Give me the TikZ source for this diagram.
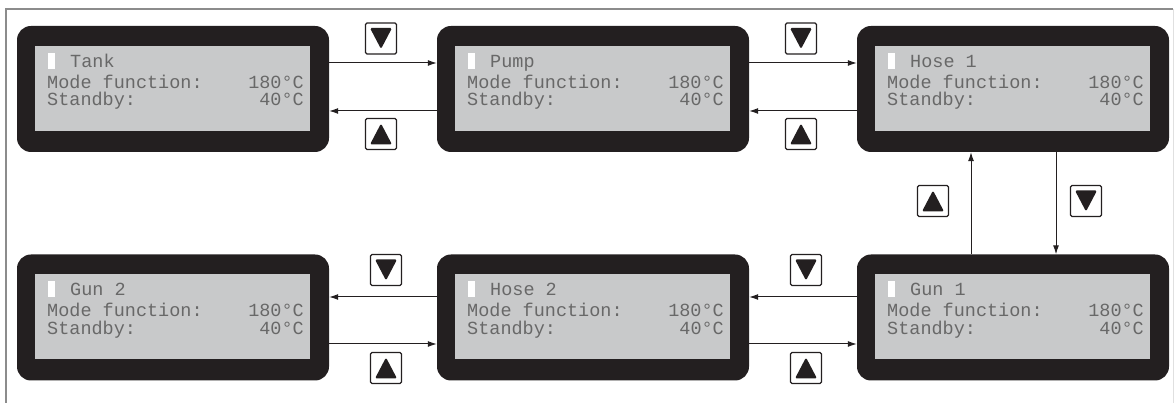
\documentclass[tikz,border=0pt]{standalone}
\usepackage{fontspec}
\newfontfamily\lcdfont{Liberation Mono}
\usetikzlibrary{arrows.meta}
\definecolor{lcdframe}{HTML}{231F20}
\definecolor{lcdback}{HTML}{C8C9CA}
\definecolor{lcdtext}{HTML}{686868}
\definecolor{rim}{HTML}{8C8C8C}
\begin{document}
\begin{tikzpicture}[x=1pt,y=1pt,
    lcd/.style={fill=lcdframe,rounded corners=14pt,minimum width=312pt,minimum height=126pt,inner sep=0pt},
    txt/.style={font=\lcdfont\fontsize{18.5}{19}\selectfont,text=lcdtext,inner sep=0pt},
    key/.style={draw=lcdframe,line width=1.1pt,rounded corners=1.5pt,minimum size=31pt,inner sep=0pt},
    keyup/.style={key,path picture={\fill[lcdframe] ([shift={(-11pt,-10.5pt)}]path picture bounding box.center) -- ++(22pt,0) -- ++(-11pt,21pt) -- cycle;}},
    keydown/.style={key,path picture={\fill[lcdframe] ([shift={(-11pt,10.5pt)}]path picture bounding box.center) -- ++(22pt,0) -- ++(-11pt,-21pt) -- cycle;}},
    link/.style={draw=lcdframe,line width=1pt,-{Latex[length=9pt,width=6pt]}}]
  \useasboundingbox (0,0) rectangle (1175,403);
  % the frame
  \draw[rim,line width=1.5pt] (6,0) -- (6,394) -- (1173,394);
  \draw[black!12,line width=1pt] (1173,0) -- (1173,394);
  %% the six displays
  \foreach \nm/\px/\py/\ttl in {tank/173/314/Tank,pump/593/314/Pump,hosea/1013/314/Hose 1,
    guna/1013/85.5/Gun 1,hoseb/593/85.5/Hose 2,gunb/173/85.5/Gun 2}
  {
    \node[lcd] (\nm) at (\px,\py) {};
    \fill[lcdback] (\px-138,\py+43) rectangle (\px+137,\py-42);
    \fill[white] (\px-125,\py+36) rectangle (\px-118,\py+20); % cursor
    \node[txt,anchor=base west] (\nm-t) at (\px-103,\py+21.7) {\ttl};
    \node[txt,anchor=base west] (\nm-m) at (\px-126,\py+0.7) {Mode function:};
    \node[txt,anchor=base east] (\nm-mv) at (\px+131,\py+0.7) {180°C};
    \node[txt,anchor=base west] (\nm-s) at (\px-126,\py-16.7) {Standby:};
    \node[txt,anchor=base east] (\nm-sv) at (\px+131,\py-16.7) {40°C};
  }
  %% the keys
  \node[keydown] (downa) at (381,364.5) {};
  \node[keyup] (upa) at (381,269) {};
  \node[keydown] (downb) at (801,364.5) {};
  \node[keyup] (upb) at (801,269) {};
  \node[keyup] (upc) at (933,202) {};
  \node[keydown] (downc) at (1086,202) {};
  \node[keydown] (downd) at (806,133) {};
  \node[keyup] (upd) at (806,35) {};
  \node[keydown] (downe) at (386,133) {};
  \node[keyup] (upe) at (386,35) {};
  %% the links
  \draw[link] ([yshift=26pt]tank.east) -- ([yshift=26pt]pump.west);
  \draw[link] ([yshift=-22pt]pump.west) -- ([yshift=-22pt]tank.east);
  \draw[link] ([yshift=26pt]pump.east) -- ([yshift=26pt]hosea.west);
  \draw[link] ([yshift=-22pt]hosea.west) -- ([yshift=-22pt]pump.east);
  \draw[link] ([xshift=43pt]hosea.south) -- ([xshift=43pt]guna.north);
  \draw[link] ([xshift=-42pt]guna.north) -- ([xshift=-42pt]hosea.south);
  \draw[link] ([yshift=20.5pt]guna.west) -- ([yshift=20.5pt]hoseb.east);
  \draw[link] ([yshift=-26.5pt]hoseb.east) -- ([yshift=-26.5pt]guna.west);
  \draw[link] ([yshift=20.5pt]hoseb.west) -- ([yshift=20.5pt]gunb.east);
  \draw[link] ([yshift=-26.5pt]gunb.east) -- ([yshift=-26.5pt]hoseb.west);
\end{tikzpicture}
\end{document}
